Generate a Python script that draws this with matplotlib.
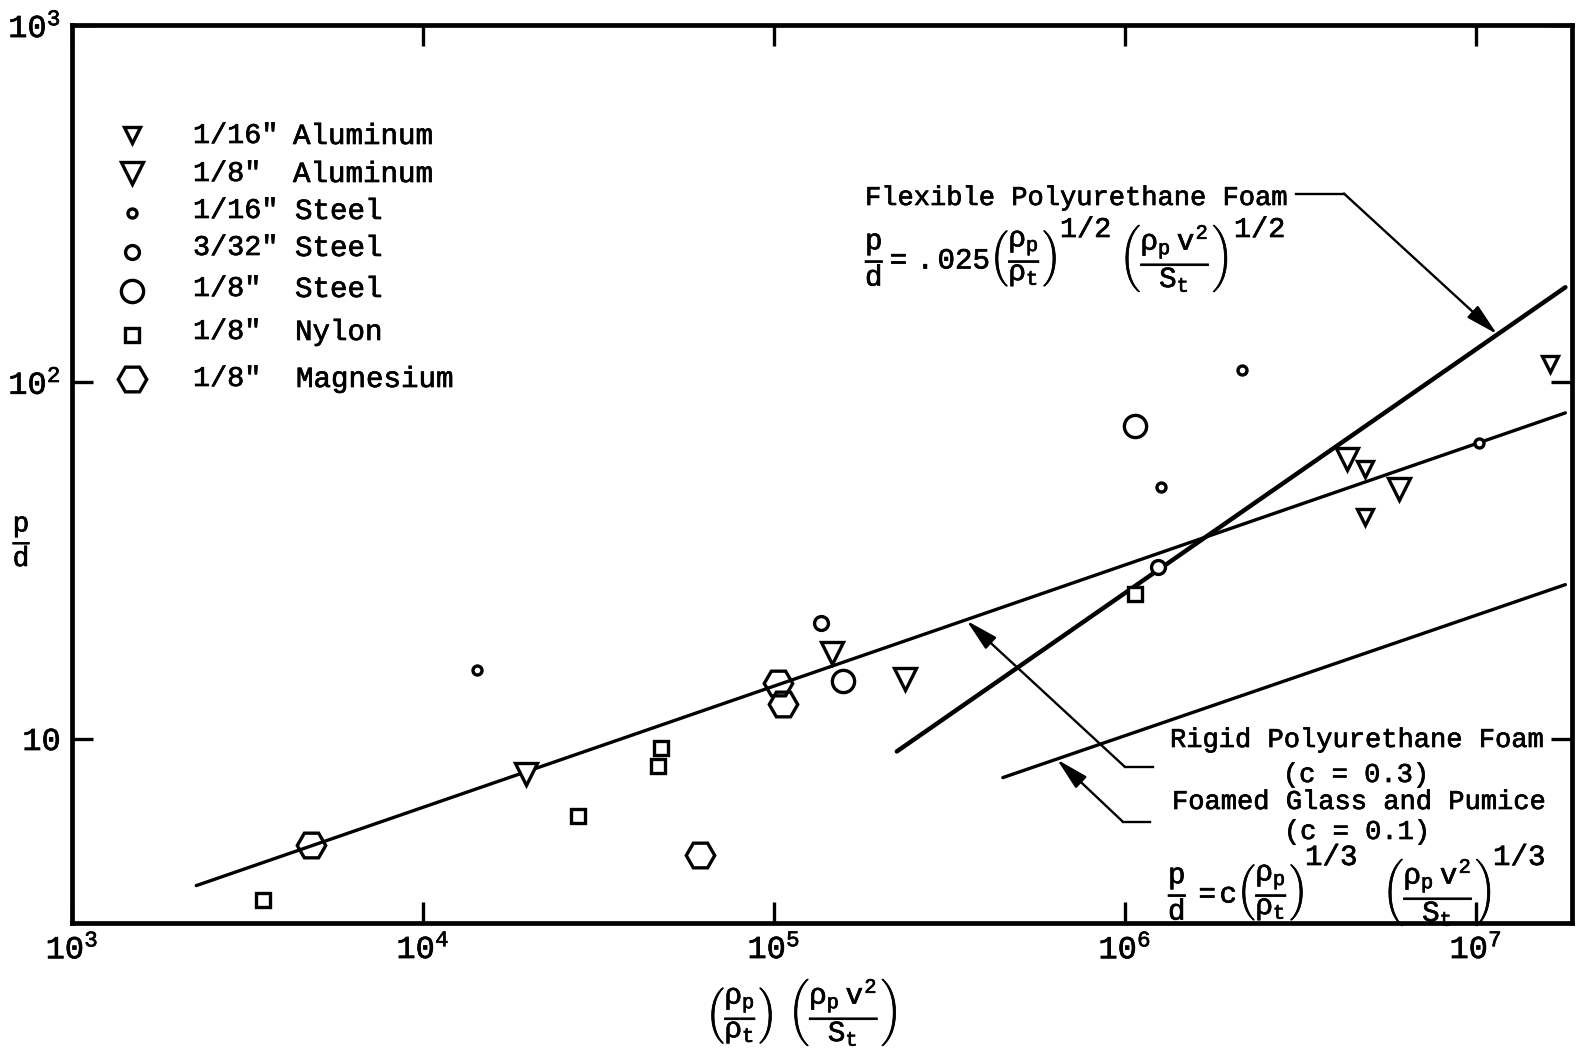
import numpy as np
import matplotlib
matplotlib.use('Agg')
import matplotlib.pyplot as plt
import matplotlib.patheffects as pe

W, H = 1577, 1055

# data: x = (rho_p/rho_t)(rho_p v^2/S_t), y = p/d
al16_x = [4.85e6, 4.83e6, 1.63e7]
al16_y = [57.0, 41.7, 112.0]
al8_x = [1.97e4, 1.46e5, 2.37e5, 4.29e6, 6.04e6]
al8_y = [7.93, 17.4, 14.7, 60.8, 50.0]
st16_x = [1.43e4, 1.27e6, 2.15e6, 1.02e7]
st16_y = [15.6, 50.6, 108.0, 67.4]
st332_x = [1.36e5, 1.24e6]
st332_y = [21.1, 30.3]
st8_x = [1.57e5, 1.07e6]
st8_y = [14.5, 75.4]
ny_x = [3.51e3, 2.77e4, 4.66e4, 4.78e4, 1.07e6]
ny_y = [3.53, 6.08, 8.39, 9.38, 25.4]
mg_x = [4.80e3, 6.17e4, 1.03e5, 1.06e5]
mg_y = [5.03, 4.72, 14.3, 12.5]

# fitted lines (end points)
flex_x = [2.24e5, 1.80e7]
flex_y = [9.20, 184.0]
rigid_x = [2.26e3, 1.80e7]
rigid_y = [3.87, 81.8]
glass_x = [4.49e5, 1.80e7]
glass_y = [7.77, 27.0]

# leader lines: [start, elbow, arrow tip]
flex_lead_x = [3.08e6, 4.21e6, 1.15e7]
flex_lead_y = [337.0, 337.0, 136.0]
rigid_lead_x = [1.20e6, 1.00e6, 3.54e5]
rigid_lead_y = [8.33, 8.33, 21.4]
glass_lead_x = [1.18e6, 9.86e5, 6.41e5]
glass_lead_y = [5.85, 5.85, 8.73]

x_ticks = [1e3, 1e4, 1e5, 1e6, 1e7]
x_labels = [r'$10^3$', r'$10^4$', r'$10^5$', r'$10^6$', r'$10^7$']
y_ticks = [10, 100, 1000]
y_labels = ['10', r'$10^2$', r'$10^3$']

legend_labels = [('1/16"', 'Aluminum'), ('1/8"', 'Aluminum'), ('1/16"', 'Steel'),
                 ('3/32"', 'Steel'), ('1/8"', 'Steel'), ('1/8"', 'Nylon'),
                 ('1/8"', 'Magnesium')]

plt.rcParams['font.family'] = ['Liberation Mono', 'DejaVu Sans']
plt.rcParams['mathtext.fontset'] = 'custom'
plt.rcParams['mathtext.rm'] = 'Liberation Mono'
plt.rcParams['mathtext.it'] = 'Liberation Mono'
plt.rcParams['mathtext.bf'] = 'Liberation Mono:bold'


def fx(px):
    return px / W


def fy(py):
    return 1 - py / H


fig = plt.figure(figsize=(W / 100, H / 100), dpi=100)
ax = fig.add_axes([fx(72), fy(923), 1500 / W, 898 / H])
ax.set_xscale('log')
ax.set_yscale('log')
ax.set_xlim(1e3, 1.88e7)
ax.set_ylim(3.04, 1000)

ax.plot(flex_x, flex_y, color='k', lw=3.2, solid_capstyle='round', zorder=2)
ax.plot(rigid_x, rigid_y, color='k', lw=2.4, solid_capstyle='round', zorder=2)
ax.plot(glass_x, glass_y, color='k', lw=2.4, solid_capstyle='round', zorder=2)

for lx, ly in [(flex_lead_x, flex_lead_y), (rigid_lead_x, rigid_lead_y),
               (glass_lead_x, glass_lead_y)]:
    ax.plot(lx[:2], ly[:2], color='k', lw=1.7, zorder=2)
    ax.annotate('', xy=(lx[2], ly[2]), xytext=(lx[1], ly[1]),
                arrowprops=dict(arrowstyle='-|>,head_length=0.9,head_width=0.22',
                                color='k', lw=1.7, mutation_scale=22,
                                shrinkA=0, shrinkB=0), zorder=2)

styles = [
    (al16_x, al16_y, 'v', 12.0, 'white'),
    (al8_x, al8_y, 'v', 16.5, 'white'),
    (st16_x, st16_y, 'o', 6.5, 'white'),
    (st332_x, st332_y, 'o', 10.0, 'white'),
    (st8_x, st8_y, 'o', 16.0, 'white'),
    (ny_x, ny_y, 's', 10.5, 'white'),
    (mg_x, mg_y, 'H', 20.5, 'none'),
]
for xs, ys, m, ms, fc in styles:
    ax.plot(xs, ys, ls='none', marker=m, ms=ms, mfc=fc, mec='k', mew=2.4, zorder=3)

ax.set_xticks(x_ticks)
ax.set_xticklabels(x_labels)
ax.set_yticks(y_ticks)
ax.set_yticklabels(y_labels)
ax.minorticks_off()
ax.tick_params(which='major', direction='in', length=15, width=2.4, top=True,
               right=True, labelsize=23, pad=8)
for s in ax.spines.values():
    s.set_linewidth(3.4)

# hand-drawn style legend
leg_marker_y = [135, 173, 213, 252, 291, 335, 379]
leg_text_y = [136, 174, 211, 248, 289, 332, 379]
leg_mat_x = [293, 293, 295, 295, 295, 295, 296]
for (xs, ys, m, ms, fc), my, ty, mx, (frac, mat) in zip(styles, leg_marker_y, leg_text_y,
                                                       leg_mat_x, legend_labels):
    ax.plot([fx(132)], [fy(my)], transform=fig.transFigure, marker=m, ms=ms,
            mfc='white', mec='k', mew=2.4, clip_on=False)
    fig.text(fx(193), fy(ty), frac, fontsize=20.5, va='center', ha='left')
    fig.text(fx(mx), fy(ty), mat, fontsize=21, va='center', ha='left')

frac_a = r'\left(\dfrac{\rho_p}{\rho_t}\right)'
frac_b = r'\left(\dfrac{\rho_p\ v^2}{S_t}\right)'

fig.text(fx(865), fy(198), 'Flexible Polyurethane Foam', fontsize=19.5, va='center')
fig.text(fx(865), fy(258), r'$\dfrac{p}{d}=\ .025' + frac_a + '$', fontsize=21, va='center')
fig.text(fx(1060), fy(230), '1/2', fontsize=20.5, va='center')
fig.text(fx(1120), fy(258), '$' + frac_b + '$', fontsize=21, va='center')
fig.text(fx(1234), fy(230), '1/2', fontsize=20.5, va='center')

fig.text(fx(1170), fy(740), 'Rigid Polyurethane Foam', fontsize=19.5, va='center')
fig.text(fx(1356), fy(775), '(c = 0.3)', fontsize=19.5, va='center', ha='center')
fig.text(fx(1172), fy(802), 'Foamed Glass and Pumice', fontsize=19.5, va='center')
fig.text(fx(1357), fy(832), '(c = 0.1)', fontsize=19.5, va='center', ha='center')
fig.text(fx(1168), fy(892), r'$\dfrac{p}{d}\ = c' + frac_a + '$', fontsize=21, va='center')
fig.text(fx(1305), fy(857), '1/3', fontsize=21, va='center')
fig.text(fx(1383), fy(892), '$' + frac_b + '$', fontsize=21, va='center')
fig.text(fx(1493), fy(857), '1/3', fontsize=21, va='center')

fig.text(fx(801), fy(1012), r'$' + frac_a + r'\ \ ' + frac_b + '$', fontsize=21,
         va='center', ha='center')
fig.text(fx(22), fy(541), r'$\dfrac{p}{d}$', fontsize=20, va='center', ha='center')

# typewriter ink is a little heavier than the font
ink = [pe.withStroke(linewidth=0.5, foreground='k')]
for t in fig.texts + ax.get_xticklabels() + ax.get_yticklabels():
    t.set_path_effects(ink)

fig.savefig('out.png', dpi=100)
